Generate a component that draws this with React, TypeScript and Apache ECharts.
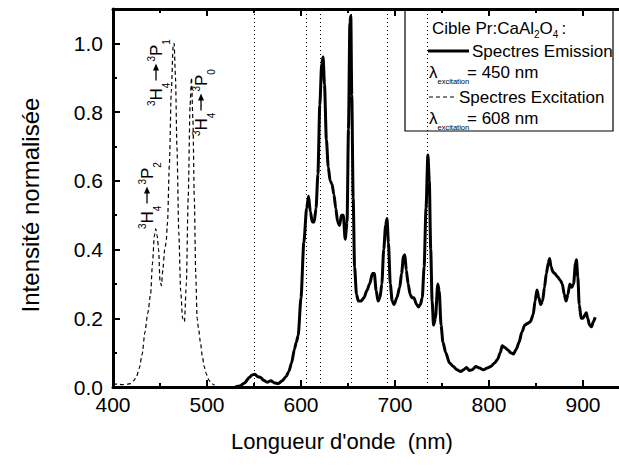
import React, { useEffect, useRef } from "react";
import * as echarts from "echarts";

// Excitation spectrum (dashed), λem = 608 nm
const excitationSpectrum: [number, number][] = [
  [400, 0.010], [405, 0.008], [410, 0.007], [415, 0.008], [419, 0.010],
  [422, 0.018], [425, 0.030], [428, 0.055], [431, 0.095], [434, 0.160],
  [437, 0.215], [440, 0.270], [442, 0.360], [444, 0.440], [445.5, 0.460],
  [447, 0.440], [448.5, 0.400], [450, 0.310], [451.5, 0.295], [453, 0.340],
  [455, 0.400], [456.5, 0.420], [458, 0.480], [460, 0.650], [462, 0.860],
  [464, 0.990], [465, 1.000], [466.5, 0.900], [468, 0.700], [470, 0.450],
  [472, 0.280], [474, 0.200], [476, 0.190], [478, 0.300], [480, 0.550],
  [482, 0.820], [483.5, 0.900], [485, 0.780], [486.5, 0.550], [488, 0.330],
  [489.5, 0.200], [491, 0.170], [493, 0.130], [495, 0.090], [497, 0.060],
  [499, 0.040], [502, 0.020], [505, 0.010], [508, 0.005],
];

// Emission spectrum (solid), λex = 450 nm
const emissionSpectrum: [number, number][] = [
  [530, 0.000], [535, 0.003], [540, 0.012], [545, 0.028], [548, 0.035],
  [551, 0.037], [554, 0.030], [557, 0.028], [560, 0.020], [564, 0.014],
  [568, 0.018], [572, 0.012], [576, 0.010], [580, 0.018], [584, 0.030],
  [587, 0.045], [590, 0.070], [593, 0.110], [595, 0.130], [597, 0.150],
  [600, 0.260], [603, 0.420], [606, 0.520], [608, 0.555], [610, 0.510],
  [612, 0.480], [614, 0.480], [616, 0.520], [618, 0.620], [620, 0.820],
  [622, 0.940], [623.5, 0.960], [625, 0.880], [627, 0.720], [629, 0.640],
  [631, 0.600], [633, 0.590], [635, 0.560], [637, 0.520], [639, 0.480],
  [641, 0.470], [643, 0.500], [645, 0.500], [647, 0.430], [649, 0.480],
  [650.5, 0.750], [652, 1.060], [653, 1.080], [654, 0.850], [655.5, 0.550],
  [657, 0.350], [659, 0.270], [661, 0.250], [664, 0.250], [667, 0.260],
  [670, 0.280], [673, 0.300], [676, 0.330], [678, 0.330], [680, 0.280],
  [682, 0.250], [684, 0.260], [686, 0.300], [688, 0.400], [690, 0.470],
  [691.5, 0.490], [693, 0.420], [695, 0.300], [697, 0.250], [699, 0.240],
  [702, 0.260], [705, 0.290], [707, 0.330], [709, 0.380], [710.5, 0.385],
  [712, 0.340], [714, 0.300], [716, 0.270], [718, 0.260], [720, 0.260],
  [723, 0.240], [725, 0.233], [727, 0.240], [729, 0.260], [731, 0.350],
  [733, 0.520], [735, 0.675], [736.5, 0.600], [738, 0.400], [739.5, 0.250],
  [741, 0.180], [743, 0.200], [745.5, 0.300], [747, 0.280], [749, 0.180],
  [751, 0.130], [754, 0.100], [758, 0.070], [762, 0.060], [766, 0.050],
  [770, 0.045], [773, 0.050], [776, 0.057], [779, 0.048], [782, 0.050],
  [786, 0.060], [790, 0.055], [794, 0.050], [798, 0.055], [802, 0.060],
  [806, 0.070], [809, 0.080], [812, 0.100], [814, 0.120], [817, 0.115],
  [820, 0.108], [823, 0.100], [826, 0.096], [829, 0.110], [832, 0.130],
  [835, 0.160], [838, 0.180], [841, 0.185], [844, 0.190], [847, 0.210],
  [849, 0.250], [851, 0.282], [853, 0.260], [855, 0.240], [857, 0.250],
  [859, 0.290], [861, 0.330], [863, 0.360], [864.5, 0.374], [866, 0.350],
  [868, 0.335], [870, 0.330], [873, 0.320], [876, 0.310], [878, 0.300],
  [880, 0.270], [882, 0.250], [884, 0.270], [886, 0.300], [888, 0.290],
  [890, 0.300], [892, 0.360], [893, 0.370], [894.5, 0.320], [896, 0.240],
  [898, 0.200], [900, 0.200], [902, 0.210], [903.5, 0.216], [905, 0.200],
  [907, 0.180], [909, 0.175], [911, 0.190], [913, 0.203],
];

// Vertical dotted reference lines (nm)
const markerWavelengths = [550, 606, 620, 653, 692, 734];

// Transition annotations: ³H₄ → ³P_sub
const transitions = [{ sub: "2" }, { sub: "1" }, { sub: "0" }];

const xTitle = "Longueur d'onde  (nm)";
const yTitle = "Intensité normalisée";
const legendTitle = ["Cible Pr:CaAl", "2", "O", "4", ":"];
const legendEmission = "Spectres Emission";
const legendExcitation = "Spectres Excitation";
const lambdaEmission = "= 450 nm";
const lambdaExcitation = "= 608 nm";

const FONT = '"Liberation Sans", Arial, Helvetica, sans-serif';

const measureCtx =
  typeof document !== "undefined"
    ? document.createElement("canvas").getContext("2d")
    : null;
function measure(t: string, size: number): number {
  if (!measureCtx) return t.length * size * 0.55;
  measureCtx.font = `${size}px ${FONT}`;
  return measureCtx.measureText(t).width;
}

type Part =
  | { t: string; s: number; dy: number; gap?: number }
  | { arrow: number; dy: number; gap?: number };

function buildRow(parts: Part[], x0: number, y0: number, z: number): any[] {
  const out: any[] = [];
  let x = x0;
  for (const p of parts) {
    x += p.gap || 0;
    if ("arrow" in p) {
      const len = p.arrow;
      const y = y0 + p.dy;
      out.push({
        type: "line",
        z,
        shape: { x1: x, y1: y, x2: x + len - 6, y2: y },
        style: { stroke: "#000", lineWidth: 1.3 },
      });
      out.push({
        type: "polygon",
        z,
        shape: {
          points: [
            [x + len - 7, y - 3],
            [x + len, y],
            [x + len - 7, y + 3],
          ],
        },
        style: { fill: "#000" },
      });
      x += len;
    } else {
      out.push({
        type: "text",
        z,
        x,
        y: y0 + p.dy,
        style: {
          text: p.t,
          fontSize: p.s,
          fontFamily: FONT,
          fill: "#000",
          align: "left",
          verticalAlign: "middle",
        },
      });
      x += measure(p.t, p.s);
    }
  }
  return out;
}

function transitionParts(sub: string): Part[] {
  return [
    { t: "3", s: 10, dy: -11 },
    { t: "H", s: 17, dy: -6 },
    { t: "4", s: 10, dy: 4 },
    { arrow: 17, dy: -6, gap: 2 },
    { t: "3", s: 10, dy: -11, gap: 2 },
    { t: "P", s: 17, dy: -6 },
    { t: sub, s: 10, dy: 4 },
  ];
}

// positions of the rotated annotations (baseline x, start y)
const annotationAnchors = [
  [153, 229],
  [162, 106],
  [207, 136],
];

export default function App() {
  const ref = useRef<HTMLDivElement>(null);

  useEffect(() => {
    if (!ref.current) return;
    const chart = echarts.init(ref.current, undefined, { renderer: "svg" });

    const axisLineStyle = { color: "#000", width: 3 };
    const tickStyle = { color: "#000", width: 2 };

    const graphics: any[] = [];
    // legend box
    graphics.push({
      type: "rect",
      z: 5,
      shape: { x: 405, y: 9, width: 208, height: 122 },
      style: { fill: "#fff", stroke: "#000", lineWidth: 1.2 },
    });
    graphics.push(
      ...buildRow(
        [
          { t: legendTitle[0], s: 17, dy: 0 },
          { t: legendTitle[1], s: 10, dy: 6 },
          { t: legendTitle[2], s: 17, dy: 0 },
          { t: legendTitle[3], s: 10, dy: 6 },
          { t: legendTitle[4], s: 17, dy: 0, gap: 3 },
        ],
        432,
        28,
        6
      )
    );
    graphics.push({
      type: "line",
      z: 6,
      shape: { x1: 428, y1: 51, x2: 469, y2: 51 },
      style: { stroke: "#000", lineWidth: 3 },
    });
    graphics.push(...buildRow([{ t: legendEmission, s: 17, dy: 0 }], 472, 51, 6));
    graphics.push(
      ...buildRow(
        [
          { t: "λ", s: 17, dy: 0 },
          { t: "excitation", s: 7.5, dy: 9 },
        ],
        429,
        72,
        6
      )
    );
    graphics.push(...buildRow([{ t: lambdaEmission, s: 17, dy: 0 }], 467, 72, 6));
    graphics.push({
      type: "line",
      z: 6,
      shape: { x1: 429, y1: 97, x2: 454, y2: 97 },
      style: { stroke: "#000", lineWidth: 1.2, lineDash: [4, 3] },
    });
    graphics.push(...buildRow([{ t: legendExcitation, s: 17, dy: 0 }], 459, 97, 6));
    graphics.push(
      ...buildRow(
        [
          { t: "λ", s: 17, dy: 0 },
          { t: "excitation", s: 7.5, dy: 9 },
        ],
        429,
        118,
        6
      )
    );
    graphics.push(...buildRow([{ t: lambdaExcitation, s: 17, dy: 0 }], 467, 118, 6));

    // rotated transition labels
    transitions.forEach((tr, i) => {
      const [bx, by] = annotationAnchors[i];
      graphics.push({
        type: "group",
        x: bx,
        y: by,
        rotation: Math.PI / 2,
        z: 6,
        children: buildRow(transitionParts(tr.sub), 0, 0, 6),
      });
    });

    // axis titles
    graphics.push({
      type: "text",
      z: 6,
      x: 231,
      y: 441,
      style: {
        text: xTitle,
        fontSize: 22,
        fontFamily: FONT,
        fill: "#000",
        align: "left",
        verticalAlign: "middle",
      },
    });
    graphics.push({
      type: "text",
      z: 6,
      x: 30,
      y: 205,
      rotation: Math.PI / 2,
      style: {
        text: yTitle,
        fontSize: 24,
        fontFamily: FONT,
        fill: "#000",
        align: "center",
        verticalAlign: "middle",
      },
    });

    const xBase = {
      type: "value" as const,
      min: 400,
      max: 950,
      splitLine: { show: false },
    };
    const yBase = {
      type: "value" as const,
      min: 0,
      max: 1.1,
      splitLine: { show: false },
    };

    chart.setOption({
      animation: false,
      backgroundColor: "#fff",
      grid: { left: 113, right: 30, top: 9, bottom: 83, containLabel: false },
      xAxis: [
        {
          ...xBase,
          position: "bottom",
          interval: 100,
          axisLine: { show: true, onZero: false, lineStyle: axisLineStyle },
          axisTick: { show: true, inside: true, length: 7, lineStyle: tickStyle },
          axisLabel: {
            show: true,
            fontSize: 21,
            fontFamily: FONT,
            color: "#000",
            margin: 7,
            showMaxLabel: false,
          },
        },
        {
          ...xBase,
          position: "bottom",
          interval: 50,
          axisLine: { show: false, onZero: false },
          axisTick: { show: true, inside: true, length: 4, lineStyle: tickStyle },
          axisLabel: { show: false },
        },
        {
          ...xBase,
          position: "top",
          interval: 100,
          z: 10,
          axisLine: { show: true, onZero: false, lineStyle: axisLineStyle },
          axisTick: { show: true, inside: true, length: 7, lineStyle: tickStyle },
          axisLabel: { show: false },
        },
        {
          ...xBase,
          position: "top",
          interval: 50,
          z: 10,
          axisLine: { show: false, onZero: false },
          axisTick: { show: true, inside: true, length: 4, lineStyle: tickStyle },
          axisLabel: { show: false },
        },
      ],
      yAxis: [
        {
          ...yBase,
          position: "left",
          interval: 0.2,
          axisLine: { show: true, onZero: false, lineStyle: axisLineStyle },
          axisTick: { show: true, inside: true, length: 7, lineStyle: tickStyle },
          axisLabel: {
            show: true,
            fontSize: 21,
            fontFamily: FONT,
            color: "#000",
            margin: 10,
            showMaxLabel: false,
            formatter: (v: number) => v.toFixed(1),
          },
        },
        {
          ...yBase,
          position: "left",
          interval: 0.1,
          axisLine: { show: false, onZero: false },
          axisTick: { show: true, inside: true, length: 4, lineStyle: tickStyle },
          axisLabel: { show: false },
        },
      ],
      series: [
        {
          name: "Spectres Excitation",
          type: "line",
          xAxisIndex: 0,
          yAxisIndex: 0,
          data: excitationSpectrum,
          showSymbol: false,
          smooth: 0.25,
          smoothMonotone: "x",
          lineStyle: { color: "#000", width: 1.2, type: [4, 3] },
          z: 3,
        },
        {
          name: "Spectres Emission",
          type: "line",
          xAxisIndex: 0,
          yAxisIndex: 0,
          data: emissionSpectrum,
          showSymbol: false,
          smooth: 0.25,
          smoothMonotone: "x",
          lineStyle: { color: "#000", width: 3 },
          z: 3,
          markLine: {
            silent: true,
            symbol: ["none", "none"],
            label: { show: false },
            lineStyle: { color: "#000", width: 1, type: [1, 3] },
            data: markerWavelengths.map((v) => ({ xAxis: v })),
          },
        },
      ],
      graphic: graphics,
    });

    return () => chart.dispose();
  }, []);

  return (
    <div
      style={{
        position: "absolute",
        left: 0,
        top: 0,
        width: 619,
        height: 470,
        overflow: "hidden",
        background: "#fff",
      }}
    >
      <div ref={ref} style={{ width: 660, height: 470 }} />
    </div>
  );
}
